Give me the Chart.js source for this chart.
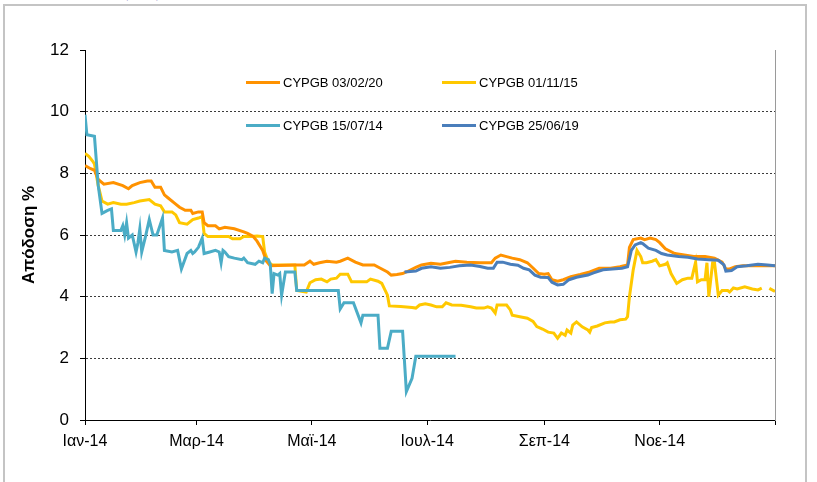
<!DOCTYPE html>
<html lang="el">
<head>
    <meta charset="UTF-8">
    <title>Αποδόσεις CYPGB 2014</title>
    <script src="https://cdn.jsdelivr.net/npm/chart.js"></script>
    <style>
        body { margin: 0; background: #fff; font-family: 'Liberation Sans', Arial, sans-serif; }
        #wrap { position: relative; width: 817px; height: 482px; overflow: hidden; }
        #frame { position: absolute; left: 3px; top: 4px; width: 804px; height: 500px; border: 2px solid #c4c4c4; box-sizing: border-box; }
        #pageTitle { position: absolute; left: 10px; top: -18px; color: #1f2a9c; font-weight: bold; font-size: 17px; white-space: nowrap; }
        #legend { position: absolute; left: 0; top: 0; font-size: 13px; color: #000; }
        .item { position: absolute; display: flex; align-items: center; white-space: nowrap; }
        .swatch { width: 34px; height: 3px; margin-right: 3px; }
        canvas { position: absolute; left: 0; top: 0; }
    </style>
</head>
<body>
<div id="wrap">
    <div id="pageTitle">Διάγραμμα: Εξέλιξη αποδόσεων κυπριακών κυβερνητικών ομολόγων (CYPGB)</div>
    <div id="frame"></div>
    <canvas id="yieldChart" width="817" height="482"></canvas>
    <div id="legend"></div>
</div>

<script>
    // x = day of 2014 (0 = 1 Jan), y = yield %
    const monthTicks = [0, 59, 120, 181, 243, 304, 365];
    const monthLabels = ['Ιαν-14', 'Μαρ-14', 'Μαϊ-14', 'Ιουλ-14', 'Σεπ-14', 'Νοε-14', ''];

    const seriesNames = ['CYPGB 03/02/20', 'CYPGB 01/11/15', 'CYPGB 15/07/14', 'CYPGB 25/06/19'];
    const seriesColors = ['#ff9200', '#ffc800', '#4bacc6', '#4a7ebb'];

    const cy200203 = [
        [0,8.25],[3,8.15],[5,8.1],[7,7.8],[10,7.65],[15,7.7],[20,7.6],[23,7.5],[25,7.6],[29,7.7],
        [33,7.75],[35,7.75],[37,7.55],[40,7.55],[42,7.3],[44,7.2],[47,7.05],[50,6.9],[53,6.8],[56,6.8],
        [57,6.7],[60,6.75],[62,6.75],[63,6.4],[65,6.3],[69,6.3],[71,6.2],[74,6.25],[79,6.2],[84,6.1],
        [86,6.05],[89,5.95],[91,5.8],[94,5.5],[96,5.15],[98,5.0],[111,5.03],[116,5.03],[119,5.15],[121,5.05],
        [124,5.1],[128,5.15],[133,5.12],[135,5.15],[139,5.25],[143,5.12],[147,5.03],[153,5.03],[156,4.93],[160,4.8],
        [162,4.7],[165,4.72],[168,4.75],[170,4.8],[175,4.95],[178,5.03],[183,5.08],[188,5.05],[192,5.1],[196,5.15],
        [202,5.12],[209,5.1],[215,5.1],[217,5.25],[220,5.35],[223,5.3],[226,5.25],[230,5.2],[234,5.1],[237,4.93],
        [240,4.75],[243,4.73],[245,4.75],[247,4.55],[250,4.5],[253,4.55],[257,4.65],[262,4.72],[267,4.8],[272,4.92],
        [278,4.92],[283,4.97],[287,5.03],[288,5.6],[290,5.85],[294,5.9],[296,5.85],[299,5.9],[302,5.85],[304,5.75],
        [307,5.55],[312,5.4],[317,5.35],[322,5.3],[328,5.3],[333,5.25],[337,5.12],[339,4.9],[341,4.9],[344,4.97],
        [348,5.0],[356,5.0],[362,5.0],[365,5.0]
    ];

    const cy151101 = [
        [0,8.65],[2,8.55],[4,8.4],[5,8.3],[7,7.6],[9,7.1],[12,7.0],[15,7.05],[19,7.0],[22,7.0],
        [26,7.05],[29,7.1],[34,7.15],[37,7.0],[40,6.95],[42,6.75],[46,6.75],[48,6.65],[50,6.4],[54,6.35],
        [57,6.5],[60,6.55],[62,6.6],[63,6.05],[65,5.95],[72,5.95],[76,5.95],[78,5.88],[82,5.88],[84,5.95],
        [88,5.95],[91,5.97],[94,5.95],[95,5.45],[97,5.12],[99,5.03],[106,5.03],[111,5.03],[112,4.2],[117,4.15],
        [119,4.45],[122,4.55],[125,4.57],[128,4.48],[130,4.57],[133,4.6],[135,4.73],[139,4.73],[141,4.48],[149,4.48],
        [151,4.57],[155,4.5],[157,4.43],[160,4.05],[161,3.7],[167,3.68],[173,3.65],[175,3.63],[177,3.73],[180,3.77],
        [183,3.73],[186,3.67],[189,3.67],[191,3.8],[194,3.73],[199,3.72],[204,3.67],[207,3.63],[211,3.63],[213,3.67],
        [215,3.63],[217,3.47],[218,3.73],[223,3.73],[225,3.57],[226,3.4],[230,3.35],[234,3.3],[237,3.2],[239,3.03],
        [242,2.95],[245,2.85],[248,2.82],[250,2.65],[252,2.82],[254,2.75],[255,2.92],[257,2.82],[258,3.08],[260,3.18],
        [263,3.02],[266,2.92],[267,2.85],[268,3.0],[271,3.05],[275,3.15],[278,3.18],[280,3.18],[283,3.25],[286,3.27],
        [287,3.35],[288,4.0],[290,4.87],[292,5.5],[294,5.3],[295,5.1],[297,5.1],[300,5.15],[302,5.2],[304,5.0],
        [307,5.05],[308,5.1],[310,4.75],[313,4.43],[316,4.55],[319,4.6],[321,4.6],[323,5.12],[324,4.48],[326,4.55],
        [328,4.55],[329,5.1],[330,4.0],[332,5.1],[333,5.1],[335,4.05],[337,4.2],[340,4.2],[341,4.15],[343,4.28],
        [345,4.25],[349,4.32],[353,4.25],[356,4.22],[358,4.28],[360,null],[362,4.27],[365,4.17]
    ];

    const cy140715 = [
        [0,9.9],[1,9.25],[5,9.2],[7,7.6],[9,6.7],[12,6.8],[14,6.85],[15,6.15],[19,6.15],[20,6.3],
        [21,6.0],[22,6.4],[23,5.9],[25,6.0],[27,5.45],[28,5.75],[29,6.2],[30,5.45],[32,5.95],[34,6.5],
        [36,6.0],[38,6.0],[41,6.55],[42,5.5],[46,5.45],[49,5.5],[51,4.9],[54,5.4],[56,5.5],[57,5.4],
        [58,5.45],[60,5.6],[62,5.9],[63,5.4],[66,5.45],[69,5.5],[71,5.45],[72,5.1],[73,5.5],[74,5.45],
        [76,5.3],[79,5.25],[83,5.2],[84,5.25],[86,5.1],[90,5.05],[92,5.15],[94,5.1],[95,5.25],[97,5.2],
        [98,5.05],[99,4.1],[100,4.75],[102,4.7],[103,4.75],[104,4.05],[106,4.8],[111,4.8],[112,4.2],[134,4.2],
        [135,3.6],[137,3.8],[142,3.8],[146,3.15],[147,3.4],[155,3.4],[156,2.33],[160,2.33],[162,2.88],[168,2.88],
        [170,0.92],[173,1.35],[175,2.07],[196,2.07]
    ];

    const cy190625 = [
        [169,4.8],[175,4.83],[178,4.92],[183,4.97],[188,4.92],[193,4.95],[198,5.0],[204,5.03],[209,4.98],[213,4.92],
        [216,4.92],[218,5.12],[221,5.12],[225,5.05],[229,5.02],[232,4.92],[235,4.87],[238,4.7],[241,4.63],[245,4.62],
        [247,4.47],[250,4.38],[253,4.4],[256,4.55],[260,4.63],[266,4.7],[269,4.77],[274,4.87],[279,4.9],[284,4.92],
        [287,4.97],[289,5.5],[291,5.68],[294,5.75],[295,5.72],[298,5.57],[302,5.5],[305,5.4],[308,5.35],[314,5.3],
        [319,5.28],[324,5.22],[330,5.2],[335,5.18],[338,5.03],[339,4.83],[342,4.85],[345,4.97],[350,5.0],[356,5.05],
        [361,5.03],[365,5.0]
    ];

    const allSeries = [cy200203, cy151101, cy140715, cy190625];
    const drawOrder = [3, 4, 2, 1]; // blue on top, yellow at the back

    const toPoints = arr => arr.map(p => ({ x: p[0], y: p[1] }));

    // legend inside the plot area, 2 x 2
    const legendPos = [[246, 83], [442, 83], [246, 126], [442, 126]];
    const legend = document.getElementById('legend');
    seriesNames.forEach((name, i) => {
        const item = document.createElement('div');
        item.className = 'item';
        item.style.left = legendPos[i][0] + 'px';
        item.style.top = (legendPos[i][1] - 8) + 'px';
        item.innerHTML = '<span class="swatch" style="background:' + seriesColors[i] + '"></span>' + name;
        legend.appendChild(item);
    });

    const ctx = document.getElementById('yieldChart').getContext('2d');
    new Chart(ctx, {
        type: 'line',
        data: {
            datasets: allSeries.map((s, i) => ({
                label: seriesNames[i],
                data: toPoints(s),
                borderColor: seriesColors[i],
                backgroundColor: seriesColors[i],
                borderWidth: 3,
                pointRadius: 0,
                tension: 0,
                spanGaps: false,
                order: drawOrder[i]
            }))
        },
        options: {
            responsive: false,
            animation: false,
            layout: { padding: { top: 50, right: 41, bottom: 0, left: 0 } },
            plugins: {
                legend: { display: false },
                tooltip: { enabled: false }
            },
            scales: {
                x: {
                    type: 'linear',
                    min: 0,
                    max: 365,
                    afterBuildTicks: scale => { scale.ticks = monthTicks.map(v => ({ value: v })); },
                    afterFit: scale => { scale.height = 62; },
                    ticks: {
                        autoSkip: false,
                        maxRotation: 0,
                        padding: 7,
                        color: '#000',
                        font: { family: "'Liberation Sans', Arial, sans-serif", size: 16 },
                        callback: (value) => {
                            const i = monthTicks.indexOf(value);
                            return i >= 0 ? monthLabels[i] : '';
                        }
                    },
                    grid: { drawOnChartArea: false, tickLength: 5, tickColor: '#000' },
                    border: { color: '#000', width: 1 }
                },
                y: {
                    min: 0,
                    max: 12,
                    afterFit: scale => { scale.width = 85; },
                    ticks: {
                        stepSize: 2,
                        padding: 11,
                        color: '#000',
                        font: { family: "'Liberation Sans', Arial, sans-serif", size: 17 }
                    },
                    grid: {
                        color: c => (c.tick && (c.tick.value === 0 || c.tick.value === 12)) ? 'rgba(0,0,0,0)' : '#3c3c3c',
                        lineWidth: 1,
                        tickLength: 5,
                        tickColor: '#000',
                        tickBorderDash: []
                    },
                    border: { color: '#000', width: 1, dash: [2, 2] },
                    title: {
                        display: true,
                        text: 'Απόδοση %',
                        color: '#000',
                        padding: { top: 19, bottom: 0 },
                        font: { family: "'Liberation Sans', Arial, sans-serif", size: 17, weight: 'bold' }
                    }
                },
                yRight: {
                    position: 'right',
                    min: 0,
                    max: 12,
                    afterFit: scale => { scale.width = 1; },
                    ticks: { display: false },
                    grid: { display: false, drawTicks: false },
                    border: { color: '#9a9a9a', width: 1 }
                }
            }
        }
    });
</script>
</body>
</html>
